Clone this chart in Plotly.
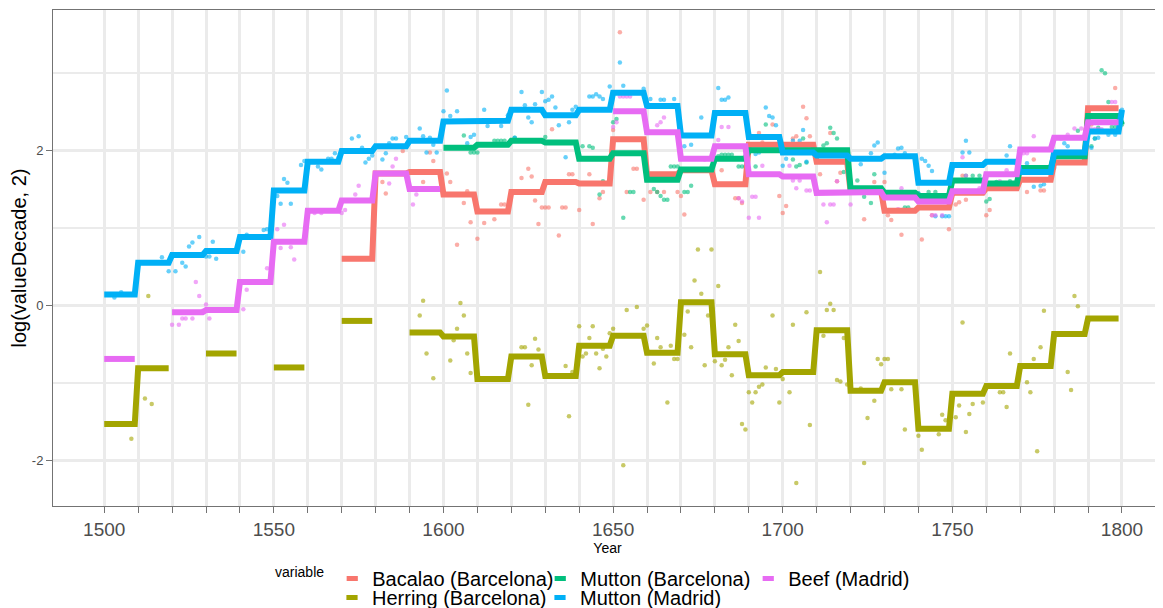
import plotly.graph_objects as go

# ---------------- decade averages (step lines) ----------------
bac_decades = [1570, 1580, 1590, 1600, 1610, 1620, 1630, 1640, 1650, 1660, 1670, 1680,
               1690, 1700, 1710, 1720, 1730, 1740, 1750, 1760, 1770, 1780, 1790]
bac_decade_vals = [0.60, 1.70, 1.72, 1.43, 1.21, 1.46, 1.59, 1.57, 2.14, 1.69, 1.74, 1.56,
                   2.07, 2.07, 1.85, 1.47, 1.22, 1.26, 1.45, 1.51, 1.62, 1.84, 2.54]

her_decades = [1500, 1510, 1530, 1550, 1570, 1590, 1600, 1610, 1620, 1630, 1640, 1650, 1660,
               1670, 1680, 1690, 1700, 1710, 1720, 1730, 1740, 1750, 1760, 1770, 1780, 1790]
her_decade_vals = [-1.53, -0.81, -0.62, -0.80, -0.20, -0.35, -0.40, -0.95, -0.66, -0.91, -0.52,
                   -0.39, -0.61, 0.04, -0.63, -0.90, -0.86, -0.32, -1.10, -0.99, -1.59, -1.14,
                   -1.04, -0.78, -0.37, -0.17]

mbar_decades = [1600, 1610, 1620, 1630, 1640, 1650, 1660, 1670, 1680, 1690, 1700, 1710, 1720,
                1730, 1740, 1750, 1760, 1770, 1780, 1790, 1800]
mbar_decade_vals = [2.03, 2.07, 2.12, 2.10, 1.89, 1.96, 1.62, 1.75, 1.89, 2.00, 2.00, 2.00, 1.51,
                    1.45, 1.41, 1.61, 1.57, 1.77, 1.92, 2.44, 2.33]

mmad_decades = [1500, 1510, 1520, 1530, 1540, 1550, 1560, 1570, 1580, 1590, 1600, 1610, 1620,
                1630, 1640, 1650, 1660, 1670, 1680, 1690, 1700, 1710, 1720, 1730, 1740, 1750,
                1760, 1770, 1780, 1790, 1800]
mmad_decade_vals = [0.14, 0.55, 0.65, 0.70, 0.88, 1.48, 1.85, 1.99, 2.05, 2.12, 2.37, 2.38, 2.52,
                    2.45, 2.52, 2.74, 2.57, 2.19, 2.48, 2.17, 1.97, 1.93, 1.89, 1.92, 1.58, 1.81,
                    1.85, 1.72, 1.97, 2.24, 2.52]

beef_decades = [1500, 1520, 1530, 1540, 1550, 1560, 1570, 1580, 1590, 1650, 1660, 1670, 1680,
                1690, 1700, 1710, 1720, 1730, 1740, 1750, 1760, 1770, 1780, 1790]
beef_decade_vals = [-0.69, -0.09, -0.06, 0.30, 0.82, 1.22, 1.35, 1.70, 1.50, 2.50, 2.23, 1.89, 2.05,
                    1.69, 1.66, 1.45, 1.46, 1.39, 1.34, 1.47, 1.69, 2.01, 2.16, 2.36]

# ---------------- yearly observations (points) ----------------
bac_years = [1582, 1583, 1588, 1594, 1596, 1597, 1601, 1602, 1604, 1606, 1607, 1608, 1610, 1612,
             1615, 1617, 1618, 1623, 1625, 1626, 1627, 1628, 1629, 1630, 1631, 1632, 1634, 1635,
             1636, 1637, 1638, 1640, 1643, 1644, 1646, 1647, 1650, 1652, 1654, 1656, 1657, 1659,
             1661, 1663, 1665, 1669, 1670, 1671, 1682, 1686, 1687, 1688, 1693, 1694, 1697, 1699,
             1700, 1701, 1703, 1704, 1706, 1707, 1708, 1711, 1714, 1716, 1717, 1724, 1727, 1730,
             1731, 1732, 1735, 1741, 1744, 1749, 1751, 1752, 1753, 1754, 1760, 1761, 1772, 1774,
             1776, 1777, 1791, 1798]
bac_values = [1.59, 1.44, 1.99, 1.59, 1.97, 1.86, 1.70, 1.59, 0.78, 1.32, 1.47, 1.07, 0.86, 1.06,
              1.11, 1.30, 1.30, 1.64, 1.76, 1.66, 1.35, 1.05, 1.26, 1.26, 1.26, 2.27, 0.90, 1.26,
              1.26, 1.69, 1.69, 1.23, 1.69, 1.05, 1.38, 1.46, 2.26, 3.52, 1.46, 1.76, 1.76, 1.36,
              1.46, 1.46, 1.46, 1.46, 1.41, 1.17, 1.74, 1.38, 1.38, 1.32, 2.22, 2.10, 2.33, 1.41,
              1.19, 1.28, 2.15, 2.18, 2.56, 2.41, 2.18, 1.69, 2.22, 1.60, 1.71, 1.11, 1.59, 1.59,
              1.16, 1.10, 0.91, 0.85, 1.16, 0.98, 1.30, 1.33, 1.67, 1.36, 1.16, 1.23, 1.46, 1.88,
              1.48, 1.48, 2.33, 2.80]

her_years = [1508, 1512, 1513, 1514, 1593, 1594, 1595, 1597, 1602, 1603, 1604, 1605, 1606, 1607,
             1608, 1623, 1624, 1625, 1626, 1627, 1628, 1636, 1637, 1638, 1640, 1641, 1642, 1643,
             1644, 1645, 1646, 1647, 1648, 1649, 1650, 1653, 1654, 1657, 1659, 1660, 1662, 1663,
             1664, 1666, 1667, 1668, 1669, 1671, 1672, 1673, 1674, 1675, 1676, 1677, 1678, 1679,
             1680, 1681, 1682, 1683, 1684, 1685, 1686, 1687, 1688, 1689, 1690, 1691, 1692, 1693,
             1694, 1695, 1697, 1698, 1699, 1700, 1702, 1703, 1704, 1707, 1708, 1711, 1712, 1713,
             1714, 1715, 1716, 1717, 1718, 1719, 1723, 1724, 1725, 1727, 1728, 1729, 1730, 1731,
             1732, 1735, 1736, 1740, 1741, 1746, 1747, 1748, 1751, 1752, 1753, 1754, 1755, 1756,
             1759, 1764, 1765, 1766, 1767, 1772, 1773, 1774, 1775, 1776, 1777, 1784, 1785, 1786,
             1787]
her_values = [-1.72, -1.20, 0.12, -1.27, -0.13, 0.06, -0.62, -0.94, -0.71, -0.45, -0.30, 0.03,
              -0.13, -0.62, -0.87, -0.54, -0.54, -1.28, -0.77, -0.43, -0.57, -0.78, -1.43, -0.86,
              -0.27, -0.66, -0.62, -0.42, -0.27, -0.62, -0.81, -0.56, -0.66, -0.36, -0.30, -2.06,
              -0.06, -0.02, -0.30, -0.26, -0.75, -0.42, -0.54, -1.25, -0.52, -0.69, -0.69, -0.38,
              -0.08, -0.54, 0.32, 0.72, 0.15, -0.77, -0.13, 0.72, -0.72, 0.25, -0.77, -0.70, -0.54,
              -0.90, -0.25, -0.46, -1.53, -1.60, -1.12, -1.25, -1.12, -1.05, -1.02, -0.80, -0.13,
              -0.82, -1.25, -0.95, -1.12, -0.25, -2.29, -0.09, -1.54, 0.43, -0.39, -0.06, 0.02,
              -0.06, -0.96, -0.98, -0.42, -1.02, -1.07, -2.03, -1.45, -1.23, -0.69, -0.76, -0.69,
              -0.69, -1.08, -1.08, -1.60, -1.68, -1.86, -1.66, -1.41, -1.48, -1.44, -1.29, -0.22,
              -1.63, -1.40, -1.27, -1.25, -1.12, -1.12, -1.31, -0.62, -0.99, -1.12, -0.69, -1.88,
              -0.54, -0.07, -0.86, -1.09, 0.12, -0.01]

mbar_years = [1606, 1608, 1609, 1610, 1615, 1616, 1617, 1618, 1621, 1630, 1641, 1643, 1644, 1646,
              1647, 1650, 1651, 1653, 1655, 1656, 1662, 1663, 1664, 1665, 1666, 1667, 1668, 1669,
              1671, 1672, 1673, 1681, 1682, 1683, 1684, 1685, 1687, 1688, 1689, 1692, 1694, 1695,
              1703, 1704, 1705, 1706, 1707, 1712, 1713, 1714, 1715, 1716, 1718, 1722, 1724, 1726,
              1727, 1733, 1736, 1737, 1740, 1743, 1745, 1754, 1756, 1758, 1760, 1761, 1763, 1767,
              1778, 1780, 1784, 1785, 1787, 1791, 1792, 1793, 1794, 1795, 1796, 1797, 1798, 1800]
mbar_values = [2.19, 1.97, 1.97, 1.97, 2.12, 2.12, 2.12, 2.12, 2.16, 2.17, 2.05, 2.05, 2.03, 1.43,
               1.60, 2.36, 2.40, 1.13, 1.46, 1.46, 1.50, 1.46, 1.41, 1.36, 1.36, 1.79, 1.79, 1.79,
               1.46, 1.46, 1.54, 1.92, 1.94, 1.94, 1.94, 1.94, 1.79, 1.79, 1.79, 1.79, 2.18, 2.33,
               1.88, 1.79, 1.81, 2.15, 1.84, 2.06, 2.09, 2.29, 2.22, 2.15, 1.72, 1.61, 1.40, 1.32,
               1.69, 1.44, 1.26, 1.26, 1.44, 1.46, 1.46, 1.67, 1.67, 1.67, 1.34, 1.37, 1.59, 1.60,
               1.77, 1.77, 1.92, 1.94, 2.25, 2.05, 2.15, 2.29, 3.03, 2.99, 2.62, 2.30, 2.30, 2.33]

mmad_years = [1503, 1505, 1517, 1519, 1521, 1523, 1524, 1525, 1526, 1528, 1530, 1531, 1532, 1533,
              1540, 1541, 1542, 1547, 1548, 1551, 1552, 1553, 1554, 1555, 1558, 1559, 1563, 1564,
              1566, 1567, 1568, 1569, 1573, 1575, 1576, 1577, 1578, 1579, 1582, 1583, 1584, 1585,
              1586, 1589, 1593, 1594, 1595, 1596, 1597, 1598, 1600, 1601, 1602, 1604, 1607, 1608,
              1609, 1610, 1612, 1613, 1615, 1617, 1619, 1621, 1623, 1624, 1625, 1626, 1627, 1629,
              1630, 1631, 1632, 1633, 1634, 1636, 1637, 1638, 1639, 1643, 1644, 1645, 1646, 1647,
              1649, 1652, 1653, 1659, 1661, 1664, 1665, 1668, 1671, 1673, 1676, 1681, 1682, 1683,
              1684, 1692, 1693, 1695, 1696, 1697, 1698, 1700, 1701, 1703, 1705, 1706, 1707, 1723,
              1726, 1727, 1728, 1730, 1733, 1734, 1735, 1736, 1740, 1741, 1742, 1743, 1744, 1745,
              1747, 1748, 1749, 1753, 1754, 1755, 1766, 1767, 1772, 1774, 1776, 1777, 1781, 1783,
              1784, 1791, 1792, 1793, 1796, 1798, 1800]
mmad_values = [0.10, 0.17, 0.62, 0.44, 0.44, 0.55, 0.50, 0.76, 0.81, 0.88, 0.63, 0.63, 0.82, 0.60,
               0.88, 0.69, 0.91, 0.97, 0.98, 1.41, 1.31, 1.63, 1.58, 1.31, 1.81, 1.86, 1.79, 1.75,
               1.89, 1.89, 1.96, 1.90, 2.15, 2.18, 2.03, 1.84, 1.89, 1.93, 1.88, 1.96, 2.09, 2.15,
               2.15, 2.17, 2.28, 2.18, 1.97, 2.16, 2.07, 1.97, 2.50, 2.77, 2.44, 2.50, 2.09, 2.17,
               2.20, 2.37, 2.52, 2.31, 2.37, 2.31, 2.45, 2.16, 2.75, 2.58, 2.42, 2.36, 2.59, 2.75,
               2.63, 2.65, 2.69, 2.55, 2.32, 1.91, 2.36, 2.52, 2.56, 2.69, 2.69, 2.72, 2.69, 2.66,
               2.82, 3.13, 2.83, 2.79, 2.66, 2.65, 2.65, 2.66, 2.05, 2.07, 2.42, 2.80, 2.65, 2.65,
               2.68, 1.95, 1.97, 2.55, 2.44, 2.42, 2.32, 1.80, 1.89, 2.12, 2.12, 2.26, 1.85, 1.82,
               1.96, 2.06, 2.10, 1.71, 1.94, 2.02, 2.03, 1.96, 1.44, 1.89, 1.86, 1.80, 1.73, 1.15,
               1.15, 1.15, 1.15, 1.97, 2.12, 1.97, 1.93, 2.05, 1.83, 1.53, 1.54, 1.56, 1.92, 2.09,
               2.05, 2.03, 2.15, 2.16, 2.20, 2.20, 2.52]

beef_years = [1520, 1522, 1523, 1524, 1526, 1527, 1528, 1529, 1530, 1531, 1541, 1542, 1548, 1551,
              1552, 1553, 1555, 1556, 1562, 1564, 1570, 1571, 1574, 1575, 1584, 1585, 1586, 1591,
              1592, 1650, 1651, 1652, 1653, 1654, 1655, 1663, 1664, 1665, 1677, 1680, 1681, 1682,
              1684, 1687, 1688, 1690, 1691, 1692, 1693, 1694, 1702, 1703, 1704, 1705, 1707, 1708,
              1712, 1713, 1714, 1715, 1716, 1720, 1734, 1735, 1744, 1745, 1747, 1753, 1754, 1758,
              1759, 1764, 1766, 1771, 1772, 1774, 1782, 1784, 1786, 1788, 1791, 1792, 1793, 1794,
              1797, 1798]
beef_values = [-0.25, -0.25, -0.17, -0.17, -0.17, 0.30, 0.12, -0.07, 0.01, -0.17, -0.05, 0.20, 0.48,
               0.98, 0.74, 1.04, 0.75, 0.59, 1.19, 1.19, 1.19, 1.23, 1.43, 1.54, 1.57, 1.79, 1.89,
               1.30, 1.43, 2.30, 2.36, 2.69, 2.69, 2.69, 2.69, 2.32, 2.36, 2.42, 1.88, 1.85, 2.13,
               2.30, 2.30, 1.38, 1.34, 1.13, 1.40, 1.40, 1.13, 1.80, 1.80, 1.61, 1.51, 1.61, 1.48,
               1.48, 1.30, 1.07, 1.30, 1.30, 1.60, 1.30, 1.24, 1.51, 1.16, 1.16, 1.16, 1.91, 1.67,
               1.51, 1.51, 1.60, 1.74, 1.96, 1.96, 2.18, 2.15, 2.20, 2.28, 2.28, 2.27, 2.27, 2.27,
               2.27, 2.62, 2.62]

# ---------------- axis ticks ----------------
x_tick_years = list(range(1500, 1801, 10))
x_tick_text = [str(v) if v % 50 == 0 else "" for v in x_tick_years]
y_tick_vals = [-2, 0, 2]
y_tick_text = ["-2", "0", "2"]
y_minor_vals = [-1, 1, 3]

series = [
    ("Bacalao (Barcelona)", "#F8766D", bac_decades, bac_decade_vals, bac_years, bac_values),
    ("Herring (Barcelona)", "#A3A500", her_decades, her_decade_vals, her_years, her_values),
    ("Mutton (Barcelona)", "#00BF7D", mbar_decades, mbar_decade_vals, mbar_years, mbar_values),
    ("Mutton (Madrid)", "#00B0F6", mmad_decades, mmad_decade_vals, mmad_years, mmad_values),
    ("Beef (Madrid)", "#E76BF3", beef_decades, beef_decade_vals, beef_years, beef_values),
]
# legend row of each series (ggplot fills its 2-row legend column-wise)
legend_rows = ["legend", "legend2", "legend", "legend2", "legend"]


def step_xy(decades, vals, last_year=1800):
    xs, ys = [], []
    prev = None
    for d, v in zip(decades, vals):
        if prev is not None and d != prev + 10:
            xs.append(None)
            ys.append(None)
        for yr in range(d, min(d + 9, last_year) + 1):
            xs.append(yr)
            ys.append(v)
        prev = d
    return xs, ys


fig = go.Figure()

# points
for name, col, dec, dv, yrs, vals in series:
    fig.add_trace(go.Scatter(x=yrs, y=vals, mode="markers", showlegend=False,
                             marker=dict(color=col, size=4.5, opacity=0.6, line=dict(width=0)),
                             hoverinfo="skip"))

# step lines
for name, col, dec, dv, yrs, vals in series:
    lx, ly = step_xy(dec, dv)
    fig.add_trace(go.Scatter(x=lx, y=ly, mode="lines", showlegend=False, connectgaps=False,
                             line=dict(color=col, width=6), hoverinfo="skip"))

# legend entries
for (name, col, *_), lg in zip(series, legend_rows):
    fig.add_trace(go.Scatter(x=[None], y=[None], mode="markers", name=name, legend=lg,
                             marker=dict(symbol="line-ew", size=8, color=col,
                                         line=dict(color=col, width=6))))

W, H = 1155, 600   # page adds an 8px body margin around the figure
axis_col = "#737373"
grid_col = "#EBEBEB"
leg_common = dict(orientation="h", xref="container", yref="container", xanchor="left",
                  yanchor="top", font=dict(size=20), itemwidth=30, entrywidth=163,
                  entrywidthmode="pixels", tracegroupgap=0, bgcolor="rgba(0,0,0,0)",
                  borderwidth=0)

fig.update_layout(
    template="none",
    width=W, height=H,
    margin=dict(l=45, r=1, t=2, b=102),
    plot_bgcolor="white", paper_bgcolor="white",
    font=dict(family="Liberation Sans, Arial, sans-serif", color="#000000"),
    showlegend=True,
    legend=dict(x=265 / W, y=1 - 551 / H,
                title=dict(text="variable", font=dict(size=14), side="left"),
                **leg_common),
    legend2=dict(x=324 / W, y=1 - 570 / H, **leg_common),
    xaxis=dict(
        range=[1484.9, 1811.8], automargin=False,
        tickmode="array", tickvals=x_tick_years, ticktext=x_tick_text,
        showgrid=True, gridcolor=grid_col, gridwidth=3,
        ticks="outside", ticklen=6, tickwidth=1, tickcolor=axis_col,
        showline=True, linecolor=axis_col, linewidth=1, mirror=True,
        zeroline=False,
        tickfont=dict(size=19, color="#4D4D4D"),
        title=dict(text="Year", font=dict(size=14), standoff=0),
    ),
    yaxis=dict(
        range=[-2.585, 3.806], automargin=False,
        tickmode="array", tickvals=y_tick_vals, ticktext=y_tick_text,
        showgrid=True, gridcolor=grid_col, gridwidth=3,
        minor=dict(tickmode="array", tickvals=y_minor_vals, showgrid=True,
                   gridcolor=grid_col, gridwidth=1.5, ticks=""),
        ticks="outside", ticklen=6, tickwidth=1, tickcolor=axis_col,
        showline=True, linecolor=axis_col, linewidth=1,
        zeroline=False,
        tickfont=dict(size=13, color="#4D4D4D"),
        title=dict(text="log(valueDecade, 2)", font=dict(size=20), standoff=8),
    ),
)

fig.write_html("out.html")
